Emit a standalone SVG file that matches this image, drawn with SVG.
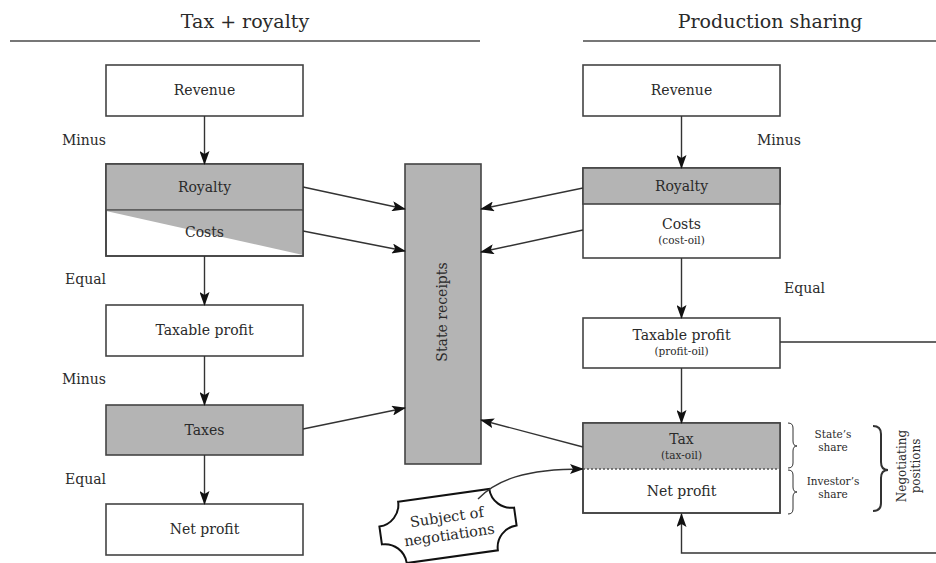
<svg xmlns="http://www.w3.org/2000/svg" width="936" height="563" viewBox="0 0 936 563">
<style>
  text { font-family: "DejaVu Serif", "Liberation Serif", serif; fill: #2a2a2a; }
  .box { stroke: #444; stroke-width: 1.6; fill: #fff; }
  .gray { fill: #b4b4b4; }
  .c { text-anchor: middle; }
  .t { font-size: 14px; }
  .s { font-size: 10.5px; }
  .lbl { font-size: 14px; }
  .ttl { font-size: 19px; text-anchor: middle; }
  .conn { stroke: #333; stroke-width: 1.4; fill: none; }
  .arr { marker-end: url(#ah); }
</style>
<defs>
  <marker id="ah" markerUnits="userSpaceOnUse" markerWidth="14" markerHeight="10" viewBox="0 0 14 10" refX="13" refY="5" orient="auto">
    <path d="M0,0 L14,5 L0,10 L3,5 Z" fill="#111"/>
  </marker>
</defs>
<rect width="936" height="563" fill="#fff"/>

<g id="titles">
  <text class="ttl" x="245" y="28">Tax + royalty</text>
  <line x1="10" y1="41" x2="480" y2="41" stroke="#777" stroke-width="2"/>
  <text class="ttl" x="770" y="28">Production sharing</text>
  <line x1="583" y1="41" x2="936" y2="41" stroke="#777" stroke-width="2"/>
</g>

<g id="labels">
  <text class="lbl" x="62" y="145">Minus</text>
  <text class="lbl" x="65" y="284">Equal</text>
  <text class="lbl" x="62" y="384">Minus</text>
  <text class="lbl" x="65" y="484">Equal</text>
  <text class="lbl" x="757" y="145">Minus</text>
  <text class="lbl" x="784" y="293">Equal</text>
</g>

<g id="l-revenue">
  <rect class="box" x="106" y="65" width="197" height="51"/>
  <text class="t c" x="204.5" y="95">Revenue</text>
</g>
<g id="l-royalty-costs">
  <rect class="box" x="106" y="164" width="197" height="92"/>
  <rect class="gray" x="106" y="164" width="197" height="46"/>
  <polygon class="gray" points="106,211 303,211 303,255"/>
  <rect x="106" y="164" width="197" height="92" fill="none" stroke="#444" stroke-width="1.6"/>
  <line x1="106" y1="210" x2="303" y2="210" stroke="#444" stroke-width="1.6"/>
  <text class="t c" x="204.5" y="192">Royalty</text>
  <text class="t c" x="204.5" y="237">Costs</text>
</g>
<g id="l-taxable">
  <rect class="box" x="106" y="305" width="197" height="51"/>
  <text class="t c" x="204.5" y="335">Taxable profit</text>
</g>
<g id="l-taxes">
  <rect class="box gray" x="106" y="405" width="197" height="50"/>
  <text class="t c" x="204.5" y="435">Taxes</text>
</g>
<g id="l-net">
  <rect class="box" x="106" y="504" width="197" height="51"/>
  <text class="t c" x="204.5" y="534">Net profit</text>
</g>

<g id="state-receipts">
  <rect class="box gray" x="405" y="164" width="76" height="300"/>
  <text class="t c" transform="translate(447,312) rotate(-90)">State receipts</text>
</g>

<g id="r-revenue">
  <rect class="box" x="583" y="65" width="197" height="51"/>
  <text class="t c" x="681.5" y="95">Revenue</text>
</g>
<g id="r-royalty-costs">
  <rect class="box" x="583" y="168" width="197" height="90"/>
  <rect class="box gray" x="583" y="168" width="197" height="36"/>
  <text class="t c" x="681.5" y="191">Royalty</text>
  <text class="t c" x="681.5" y="229">Costs</text>
  <text class="s c" x="681.5" y="244">(cost-oil)</text>
</g>
<g id="r-taxable">
  <rect class="box" x="583" y="318" width="197" height="50"/>
  <text class="t c" x="681.5" y="340">Taxable profit</text>
  <text class="s c" x="681.5" y="355">(profit-oil)</text>
</g>
<g id="r-tax-net">
  <rect class="box" x="583" y="423" width="197" height="90"/>
  <rect class="gray" x="583" y="423" width="197" height="46"/>
  <rect x="583" y="423" width="197" height="90" fill="none" stroke="#444" stroke-width="1.6"/>
  <line x1="583" y1="469" x2="780" y2="469" stroke="#555" stroke-width="1.3" stroke-dasharray="2,2"/>
  <text class="t c" x="681.5" y="444">Tax</text>
  <text class="s c" x="681.5" y="459">(tax-oil)</text>
  <text class="t c" x="681.5" y="496">Net profit</text>
</g>

<g id="braces" fill="none" stroke="#333">
  <path d="M788,423 Q793,423 793,428 L793,441 Q793,446 797,446 Q793,446 793,451 L793,463 Q793,468 788,468" stroke-width="1"/>
  <path d="M788,470 Q793,470 793,475 L793,487 Q793,492 797,492 Q793,492 793,497 L793,509 Q793,514 788,514" stroke-width="1"/>
  <path d="M873,426 Q881,426 881,434 L881,462 Q881,470 888,470 Q881,470 881,478 L881,503 Q881,511 873,511" stroke-width="2"/>
</g>
<g id="shares">
  <text class="s c" x="833" y="438">State’s</text>
  <text class="s c" x="833" y="451">share</text>
  <text class="s c" x="833" y="485">Investor’s</text>
  <text class="s c" x="833" y="498">share</text>
  <text class="c" font-size="12" transform="translate(906,466) rotate(-90)">Negotiating</text>
  <text class="c" font-size="12" transform="translate(920,466) rotate(-90)">positions</text>
</g>

<g id="subject-bubble" transform="rotate(-8 448 526)">
  <path d="M402,495 L494,495 A22 22 0 0 0 516,517 L516,535 A22 22 0 0 0 494,557 L402,557 A22 22 0 0 0 380,535 L380,517 A22 22 0 0 0 402,495 Z" fill="#fff" stroke="#111" stroke-width="2"/>
  <text class="c" font-size="14.5" x="448" y="522">Subject of</text>
  <text class="c" font-size="14.5" x="448" y="540">negotiations</text>
</g>

<g id="connectors">
  <line class="conn arr" x1="204.5" y1="116" x2="204.5" y2="164"/>
  <line class="conn arr" x1="204.5" y1="256" x2="204.5" y2="305"/>
  <line class="conn arr" x1="204.5" y1="356" x2="204.5" y2="405"/>
  <line class="conn arr" x1="204.5" y1="455" x2="204.5" y2="504"/>
  <line class="conn arr" x1="681.5" y1="116" x2="681.5" y2="168"/>
  <line class="conn arr" x1="681.5" y1="258" x2="681.5" y2="318"/>
  <line class="conn arr" x1="681.5" y1="368" x2="681.5" y2="423"/>
  <line class="conn arr" x1="303" y1="187" x2="405" y2="209"/>
  <line class="conn arr" x1="303" y1="231" x2="405" y2="251"/>
  <line class="conn arr" x1="303" y1="429" x2="405" y2="408"/>
  <line class="conn arr" x1="583" y1="188" x2="481" y2="209"/>
  <line class="conn arr" x1="583" y1="230" x2="481" y2="252"/>
  <line class="conn arr" x1="583" y1="447" x2="481" y2="420"/>
  <path class="conn arr" d="M780,342 H940 V553 H681.5 V514"/>
  <path class="conn arr" d="M478,499 C496,480 525,469 583,469" stroke="#111" stroke-width="1.8"/>
</g>
</svg>
